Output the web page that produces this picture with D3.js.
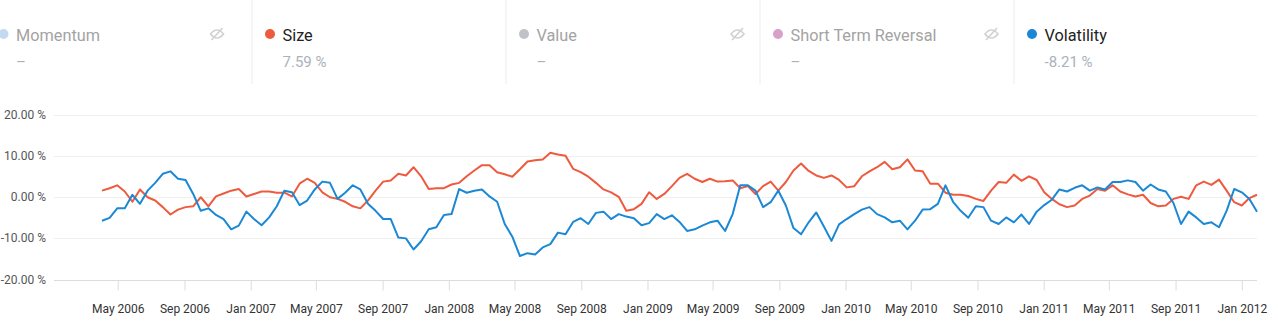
<!DOCTYPE html>
<html>
<head>
<meta charset="utf-8">
<script src="https://cdn.jsdelivr.net/npm/d3@7"></script>
<style>
  html, body { margin: 0; padding: 0; background: #fff; }
  svg { display: block; font-family: Roboto, "Noto Sans", sans-serif; }
</style>
</head>
<body>
<svg id="chart" width="1278" height="328"></svg>
<script>
// legend entries (hidden ones have no value)
const seriesNames = ["Momentum", "Size", "Value", "Short Term Reversal", "Volatility"];
const seriesColors = ["#c3d9f1", "#ee5a3e", "#bfc3c8", "#d9a0c9", "#1b88d6"];
const seriesVisible = [false, true, false, false, true];
const legendValues = ["–", "7.59 %", "–", "–", "-8.21 %"];

// y ticks (percent)
const yTicks = [-20, -10, 0, 10, 20];

// biweekly observations starting 2 Apr 2006
const startDate = new Date(2006, 3, 2);
const stepDays = 14;

const sizeValues = [
  1.6, 2.2, 2.9, 1.4, -1.1, 1.9, 0.0, -0.8, -2.4, -4.2,
  -3.0, -2.4, -2.2, 0.0, -2.2, 0.2, 0.9, 1.6, 2.0, 0.2,
  0.8, 1.4, 1.4, 1.1, 1.1, 0.2, 3.3, 4.5, 3.5, 1.2,
  0.0, -0.4, -1.1, -2.2, -2.7, -0.8, 1.6, 3.8, 4.1, 5.7,
  5.3, 7.3, 5.1, 2.0, 2.2, 2.2, 3.1, 3.5, 5.1, 6.5,
  7.8, 7.8, 6.1, 5.6, 5.0, 6.8, 8.7, 9.0, 9.2, 10.8,
  10.4, 10.1, 6.9, 6.1, 5.0, 3.5, 1.9, 1.2, 0.1, -3.3,
  -2.9, -1.6, 1.2, -0.4, 0.8, 2.7, 4.7, 5.7, 4.5, 3.7,
  4.5, 3.8, 3.9, 4.1, 2.2, 2.7, 0.8, 2.7, 3.8, 1.6,
  3.7, 6.5, 8.2, 6.4, 5.3, 4.7, 5.3, 4.2, 2.4, 2.7,
  5.1, 6.3, 7.3, 8.6, 6.8, 7.3, 9.2, 6.5, 6.3, 3.3,
  3.3, 1.1, 0.6, 0.6, 0.3, -0.4, -0.9, 1.6, 3.7, 3.5,
  5.5, 4.0, 5.1, 4.2, 1.2, -0.4, -1.7, -2.4, -2.0, -0.4,
  0.4, 2.0, 1.6, 2.9, 1.4, 0.7, 0.2, 0.6, -1.4, -2.2,
  -2.0, -0.4, 0.1, -0.4, 2.9, 3.8, 3.0, 4.3, 1.6, -1.2,
  -2.0, -0.2, 0.6
];

const volatilityValues = [
  -5.7, -5.0, -2.7, -2.7, 0.6, -1.6, 1.6, 3.5, 5.7, 6.3,
  4.5, 4.2, 0.8, -3.3, -2.7, -4.3, -5.3, -7.8, -6.9, -3.5,
  -5.3, -6.8, -4.9, -2.2, 1.6, 1.2, -1.9, -0.8, 1.9, 3.8,
  3.5, -0.4, 1.1, 2.9, 1.9, -1.6, -3.3, -5.3, -5.3, -9.8,
  -10.0, -12.7, -10.7, -7.8, -7.3, -4.3, -4.1, 2.0, 1.1, 1.6,
  1.9, 0.2, -1.1, -6.5, -9.6, -14.3, -13.6, -13.9, -12.2, -11.4,
  -8.6, -9.0, -6.0, -5.1, -6.5, -3.8, -3.5, -5.3, -4.1, -4.7,
  -5.1, -6.8, -6.3, -4.1, -5.3, -4.4, -6.0, -8.2, -7.8, -6.9,
  -6.1, -5.7, -8.2, -4.1, 2.9, 2.9, 1.6, -2.4, -1.2, 1.6,
  -2.0, -7.5, -9.0, -6.1, -3.7, -7.1, -10.6, -6.6, -5.3, -4.1,
  -3.0, -2.4, -4.1, -4.9, -6.1, -5.7, -7.8, -5.7, -3.0, -2.9,
  -1.6, 2.9, -1.1, -3.3, -5.0, -2.2, -2.4, -5.7, -6.5, -4.9,
  -6.1, -4.2, -6.5, -3.5, -1.9, -0.6, 1.9, 1.4, 2.3, 2.9,
  1.6, 2.4, 1.9, 3.7, 3.7, 4.1, 3.7, 1.6, 3.1, 1.9,
  1.4, -1.4, -6.5, -3.5, -4.9, -6.5, -6.1, -7.3, -3.3, 2.0,
  1.2, -0.4, -3.5
];

const dates = sizeValues.map((_, i) => d3.timeDay.offset(startDate, i * stepDays));

var svg = d3.select("#chart");

// ---- legend ----
var itemW = 254;
var legend = svg.append("g").attr("class", "legend");
seriesNames.forEach(function(name, i) {
  var x0 = i === 0 ? -15 : i * itemW - 2.5;
  var g = legend.append("g").attr("transform", "translate(" + x0 + ",0)");
  if (i > 0) {
    g.append("line")
      .attr("x1", 0.5).attr("x2", 0.5)
      .attr("y1", 0).attr("y2", 84)
      .attr("stroke", "#ececec");
  }
  g.append("circle")
    .attr("cx", 18.5).attr("cy", 34)
    .attr("r", 5)
    .attr("fill", seriesColors[i]);
  g.append("text")
    .attr("x", 31).attr("y", 41)
    .attr("font-size", 16.3)
    .attr("fill", seriesVisible[i] ? "#222" : "#a3a3a3")
    .text(name);
  g.append("text")
    .attr("x", 31).attr("y", 67)
    .attr("font-size", 15)
    .attr("fill", "#aab1bb")
    .text(legendValues[i]);
  if (!seriesVisible[i]) {
    // eye-slash icon
    var ic = g.append("g")
      .attr("transform", "translate(" + (itemW - 22) + ",34)")
      .attr("fill", "none")
      .attr("stroke", "#d2d2d2")
      .attr("stroke-width", 1.7);
    ic.append("path").attr("d", "M-6.5,0 Q0,-8 6.5,0 Q0,8 -6.5,0 Z");
    ic.append("line").attr("x1", -5.5).attr("y1", 6).attr("x2", 5.5).attr("y2", -6);
  }
});

// ---- chart ----
var left = 54, right = 1257;
var x = d3.scaleTime()
  .domain(d3.extent(dates))
  .range([102, 1257]);
var y = d3.scaleLinear()
  .domain([-20, 20])
  .range([279.5, 115]);

// gridlines + y labels
var grid = svg.append("g");
grid.selectAll("line")
  .data(yTicks.filter(function(d) { return d !== -20; }))
  .enter().append("line")
  .attr("x1", left).attr("x2", right)
  .attr("y1", function(d) { return Math.round(y(d)) + 0.5; })
  .attr("y2", function(d) { return Math.round(y(d)) + 0.5; })
  .attr("stroke", "#f0f0f0");

grid.selectAll("text")
  .data(yTicks)
  .enter().append("text")
  .attr("x", 46)
  .attr("y", function(d) { return y(d) + 4; })
  .attr("text-anchor", "end")
  .attr("font-size", 12)
  .attr("fill", "#555")
  .text(function(d) { return d.toFixed(2) + " %"; });

// x axis
var xAxis = d3.axisBottom(x)
  .ticks(d3.timeMonth.every(4))
  .tickFormat(d3.timeFormat("%b %Y"))
  .tickSize(10)
  .tickSizeOuter(0)
  .tickPadding(14);

var ax = svg.append("g")
  .attr("transform", "translate(0," + (Math.round(y(-20)) + 0.5) + ")")
  .call(xAxis);
ax.select(".domain").remove();
ax.append("line")
  .attr("x1", left).attr("x2", right)
  .attr("stroke", "#dcdcdc");
ax.selectAll(".tick line").attr("stroke", "#dcdcdc");
ax.selectAll(".tick text")
  .attr("font-family", "Roboto, sans-serif")
  .attr("font-size", 12)
  .attr("fill", "#333");

// lines
var line = function(vals) {
  return d3.line()
    .x(function(d, i) { return x(dates[i]); })
    .y(function(d) { return y(d); })(vals);
};

svg.append("path")
  .attr("d", line(sizeValues))
  .attr("fill", "none")
  .attr("stroke", seriesColors[1])
  .attr("stroke-width", 2)
  .attr("stroke-linejoin", "round");

svg.append("path")
  .attr("d", line(volatilityValues))
  .attr("fill", "none")
  .attr("stroke", seriesColors[4])
  .attr("stroke-width", 2)
  .attr("stroke-linejoin", "round");
</script>
</body>
</html>
